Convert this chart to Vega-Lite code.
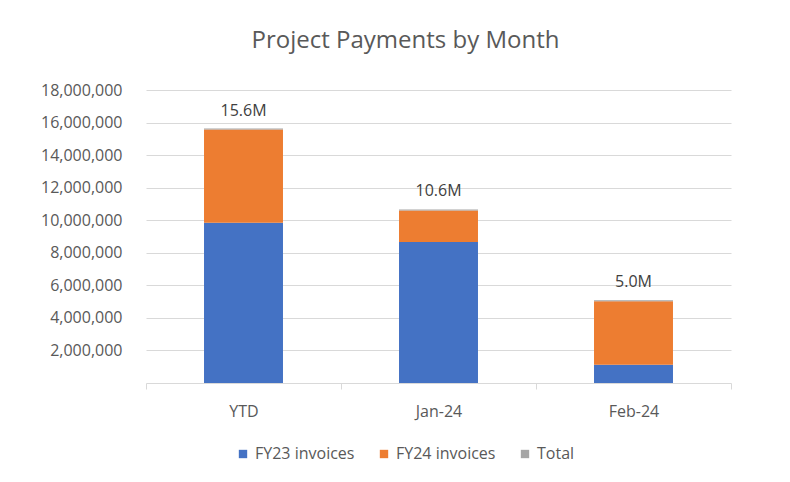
{
  "$schema": "https://vega.github.io/schema/vega-lite/v6.json",
  "autosize": "none",
  "width": 585,
  "height": 293,
  "padding": {"left": 146, "top": 90, "right": 59, "bottom": 99},
  "background": "white",
  "config": {
    "font": "Open Sans",
    "view": {"stroke": null},
    "axis": {"labelFont": "Open Sans", "labelColor": "#595959", "labelFontSize": 16}
  },
  "title": {
    "text": "Project Payments by Month",
    "font": "Open Sans",
    "fontSize": 24,
    "fontWeight": "normal",
    "color": "#595959",
    "anchor": "middle",
    "frame": "group",
    "dx": -33,
    "offset": 29
  },
  "datasets": {
    "parts": [
      {"month": "YTD", "series": "FY23 invoices", "value": 9850000, "ord": 1},
      {"month": "YTD", "series": "FY24 invoices", "value": 5720000, "ord": 2},
      {"month": "YTD", "series": "Total", "value": 60000, "ord": 3},
      {"month": "Jan-24", "series": "FY23 invoices", "value": 8660000, "ord": 1},
      {"month": "Jan-24", "series": "FY24 invoices", "value": 1940000, "ord": 2},
      {"month": "Jan-24", "series": "Total", "value": 60000, "ord": 3},
      {"month": "Feb-24", "series": "FY23 invoices", "value": 1120000, "ord": 1},
      {"month": "Feb-24", "series": "FY24 invoices", "value": 3900000, "ord": 2},
      {"month": "Feb-24", "series": "Total", "value": 60000, "ord": 3}
    ],
    "totals": [
      {"month": "YTD", "total": 15630000, "label": "15.6M"},
      {"month": "Jan-24", "total": 10660000, "label": "10.6M"},
      {"month": "Feb-24", "total": 5080000, "label": "5.0M"}
    ]
  },
  "layer": [
    {
      "data": {"name": "parts"},
      "mark": {"type": "bar", "width": {"band": 0.405}},
      "encoding": {
        "x": {
          "field": "month",
          "type": "nominal",
          "sort": ["YTD", "Jan-24", "Feb-24"],
          "scale": {"paddingInner": 0, "paddingOuter": 0},
          "axis": {
            "title": null,
            "labelAngle": 0,
            "labelPadding": 14,
            "tickBand": "extent",
            "ticks": true,
            "tickSize": 6,
            "tickColor": "#d9d9d9",
            "domainColor": "#d9d9d9",
            "grid": false
          }
        },
        "y": {
          "field": "value",
          "type": "quantitative",
          "aggregate": "sum",
          "stack": "zero",
          "scale": {"domain": [0, 18000000], "nice": false},
          "axis": {
            "title": null,
            "values": [2000000, 4000000, 6000000, 8000000, 10000000, 12000000, 14000000, 16000000, 18000000],
            "format": ",.0f",
            "labelOverlap": false,
            "labelBound": false,
            "domain": false,
            "ticks": false,
            "labelPadding": 24,
            "gridColor": "#d9d9d9",
            "gridWidth": 1
          }
        },
        "color": {
          "field": "series",
          "type": "nominal",
          "scale": {
            "domain": ["FY23 invoices", "FY24 invoices", "Total"],
            "range": ["#4472C4", "#ED7D31", "#A5A5A5"]
          },
          "legend": {
            "title": null,
            "orient": "none",
            "direction": "horizontal",
            "legendX": 89,
            "legendY": 356,
            "symbolType": "square",
            "symbolSize": 70,
            "symbolStrokeWidth": 0,
            "labelFont": "Open Sans",
            "labelFontSize": 16,
            "labelColor": "#595959",
            "labelOffset": 4,
            "columnPadding": 21
          }
        },
        "order": {"field": "ord", "type": "quantitative"}
      }
    },
    {
      "data": {"name": "totals"},
      "mark": {"type": "text", "dy": -18, "font": "Open Sans", "fontSize": 16, "color": "#404040"},
      "encoding": {
        "x": {
          "field": "month",
          "type": "nominal",
          "sort": ["YTD", "Jan-24", "Feb-24"],
          "axis": {
            "title": null,
            "labelAngle": 0,
            "labelPadding": 14,
            "tickBand": "extent",
            "ticks": true,
            "tickSize": 6,
            "tickColor": "#d9d9d9",
            "domainColor": "#d9d9d9",
            "grid": false
          }
        },
        "y": {
          "field": "total",
          "type": "quantitative",
          "axis": {
            "title": null,
            "values": [2000000, 4000000, 6000000, 8000000, 10000000, 12000000, 14000000, 16000000, 18000000],
            "format": ",.0f",
            "labelOverlap": false,
            "labelBound": false,
            "domain": false,
            "ticks": false,
            "labelPadding": 24,
            "gridColor": "#d9d9d9",
            "gridWidth": 1
          }
        },
        "text": {"field": "label"}
      }
    }
  ]
}
